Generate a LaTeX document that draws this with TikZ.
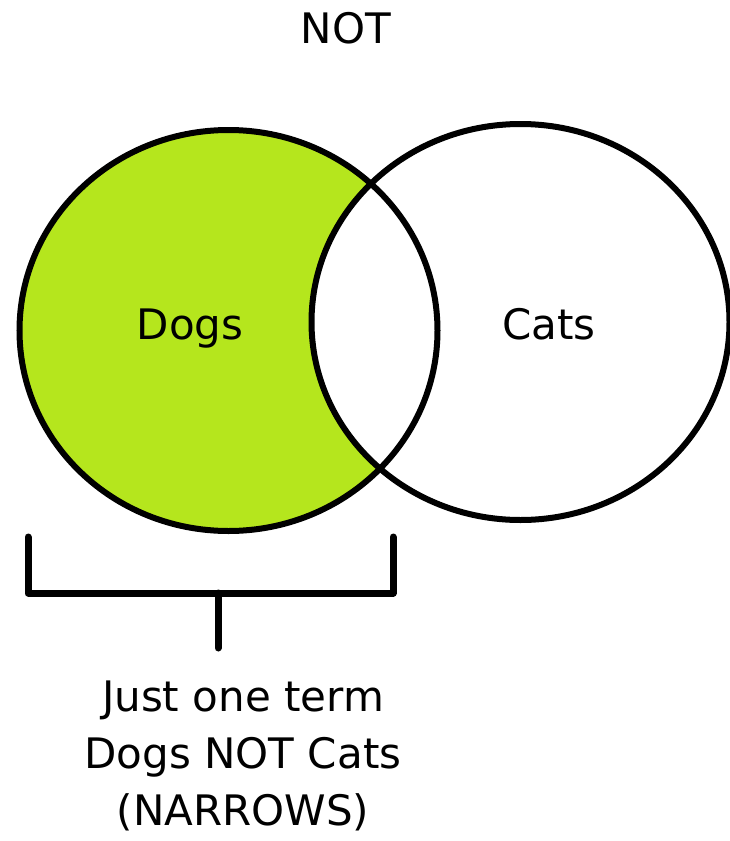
\documentclass[tikz,border=0pt]{standalone}
\usepackage{fontspec}
\setmainfont{DejaVu Sans}
\definecolor{lime}{HTML}{B5E61D}
\begin{document}
\begin{tikzpicture}[x=1pt,y=-1pt,
  outline/.style={draw=black,line width=6pt},
  bracket/.style={draw=black,line width=7pt,line cap=round,line join=round},
  lbl/.style={font=\fontsize{42}{58}\selectfont,inner sep=0pt,anchor=base},
  caption/.style={font=\fontsize{42}{57}\selectfont,inner sep=0pt,align=center,anchor=north}]
\useasboundingbox (0,0) rectangle (730,841);
\fill[white] (0,0) rectangle (730,841);
% left set filled
\fill[lime] (228.5,330.5) ellipse [x radius=209, y radius=200.5];
\begin{scope}
  \clip (520.5,322) ellipse [x radius=209, y radius=198];
  \fill[white] (228.5,330.5) ellipse [x radius=209, y radius=200.5];
\end{scope}
\draw[outline] (228.5,330.5) ellipse [x radius=209, y radius=200.5];
\draw[outline] (520.5,322) ellipse [x radius=209, y radius=198];
\node[lbl] (title) at (346,43) {NOT};
\node[lbl] (dogs) at (190,339) {Dogs};
\node[lbl] (cats) at (549,339) {Cats};
% bracket
\coordinate (bl) at (28,537);
\coordinate (br) at (393,537);
\coordinate (bm) at (218,593);
\coordinate (stem) at (218,648);
\draw[bracket] (bl) -- (28,593) -- (393,593) -- (br);
\draw[bracket] (bm) -- (stem);
\node[caption] (cap) at (243,681) {Just one term\\Dogs NOT Cats\\(NARROWS)};
\end{tikzpicture}
\end{document}
